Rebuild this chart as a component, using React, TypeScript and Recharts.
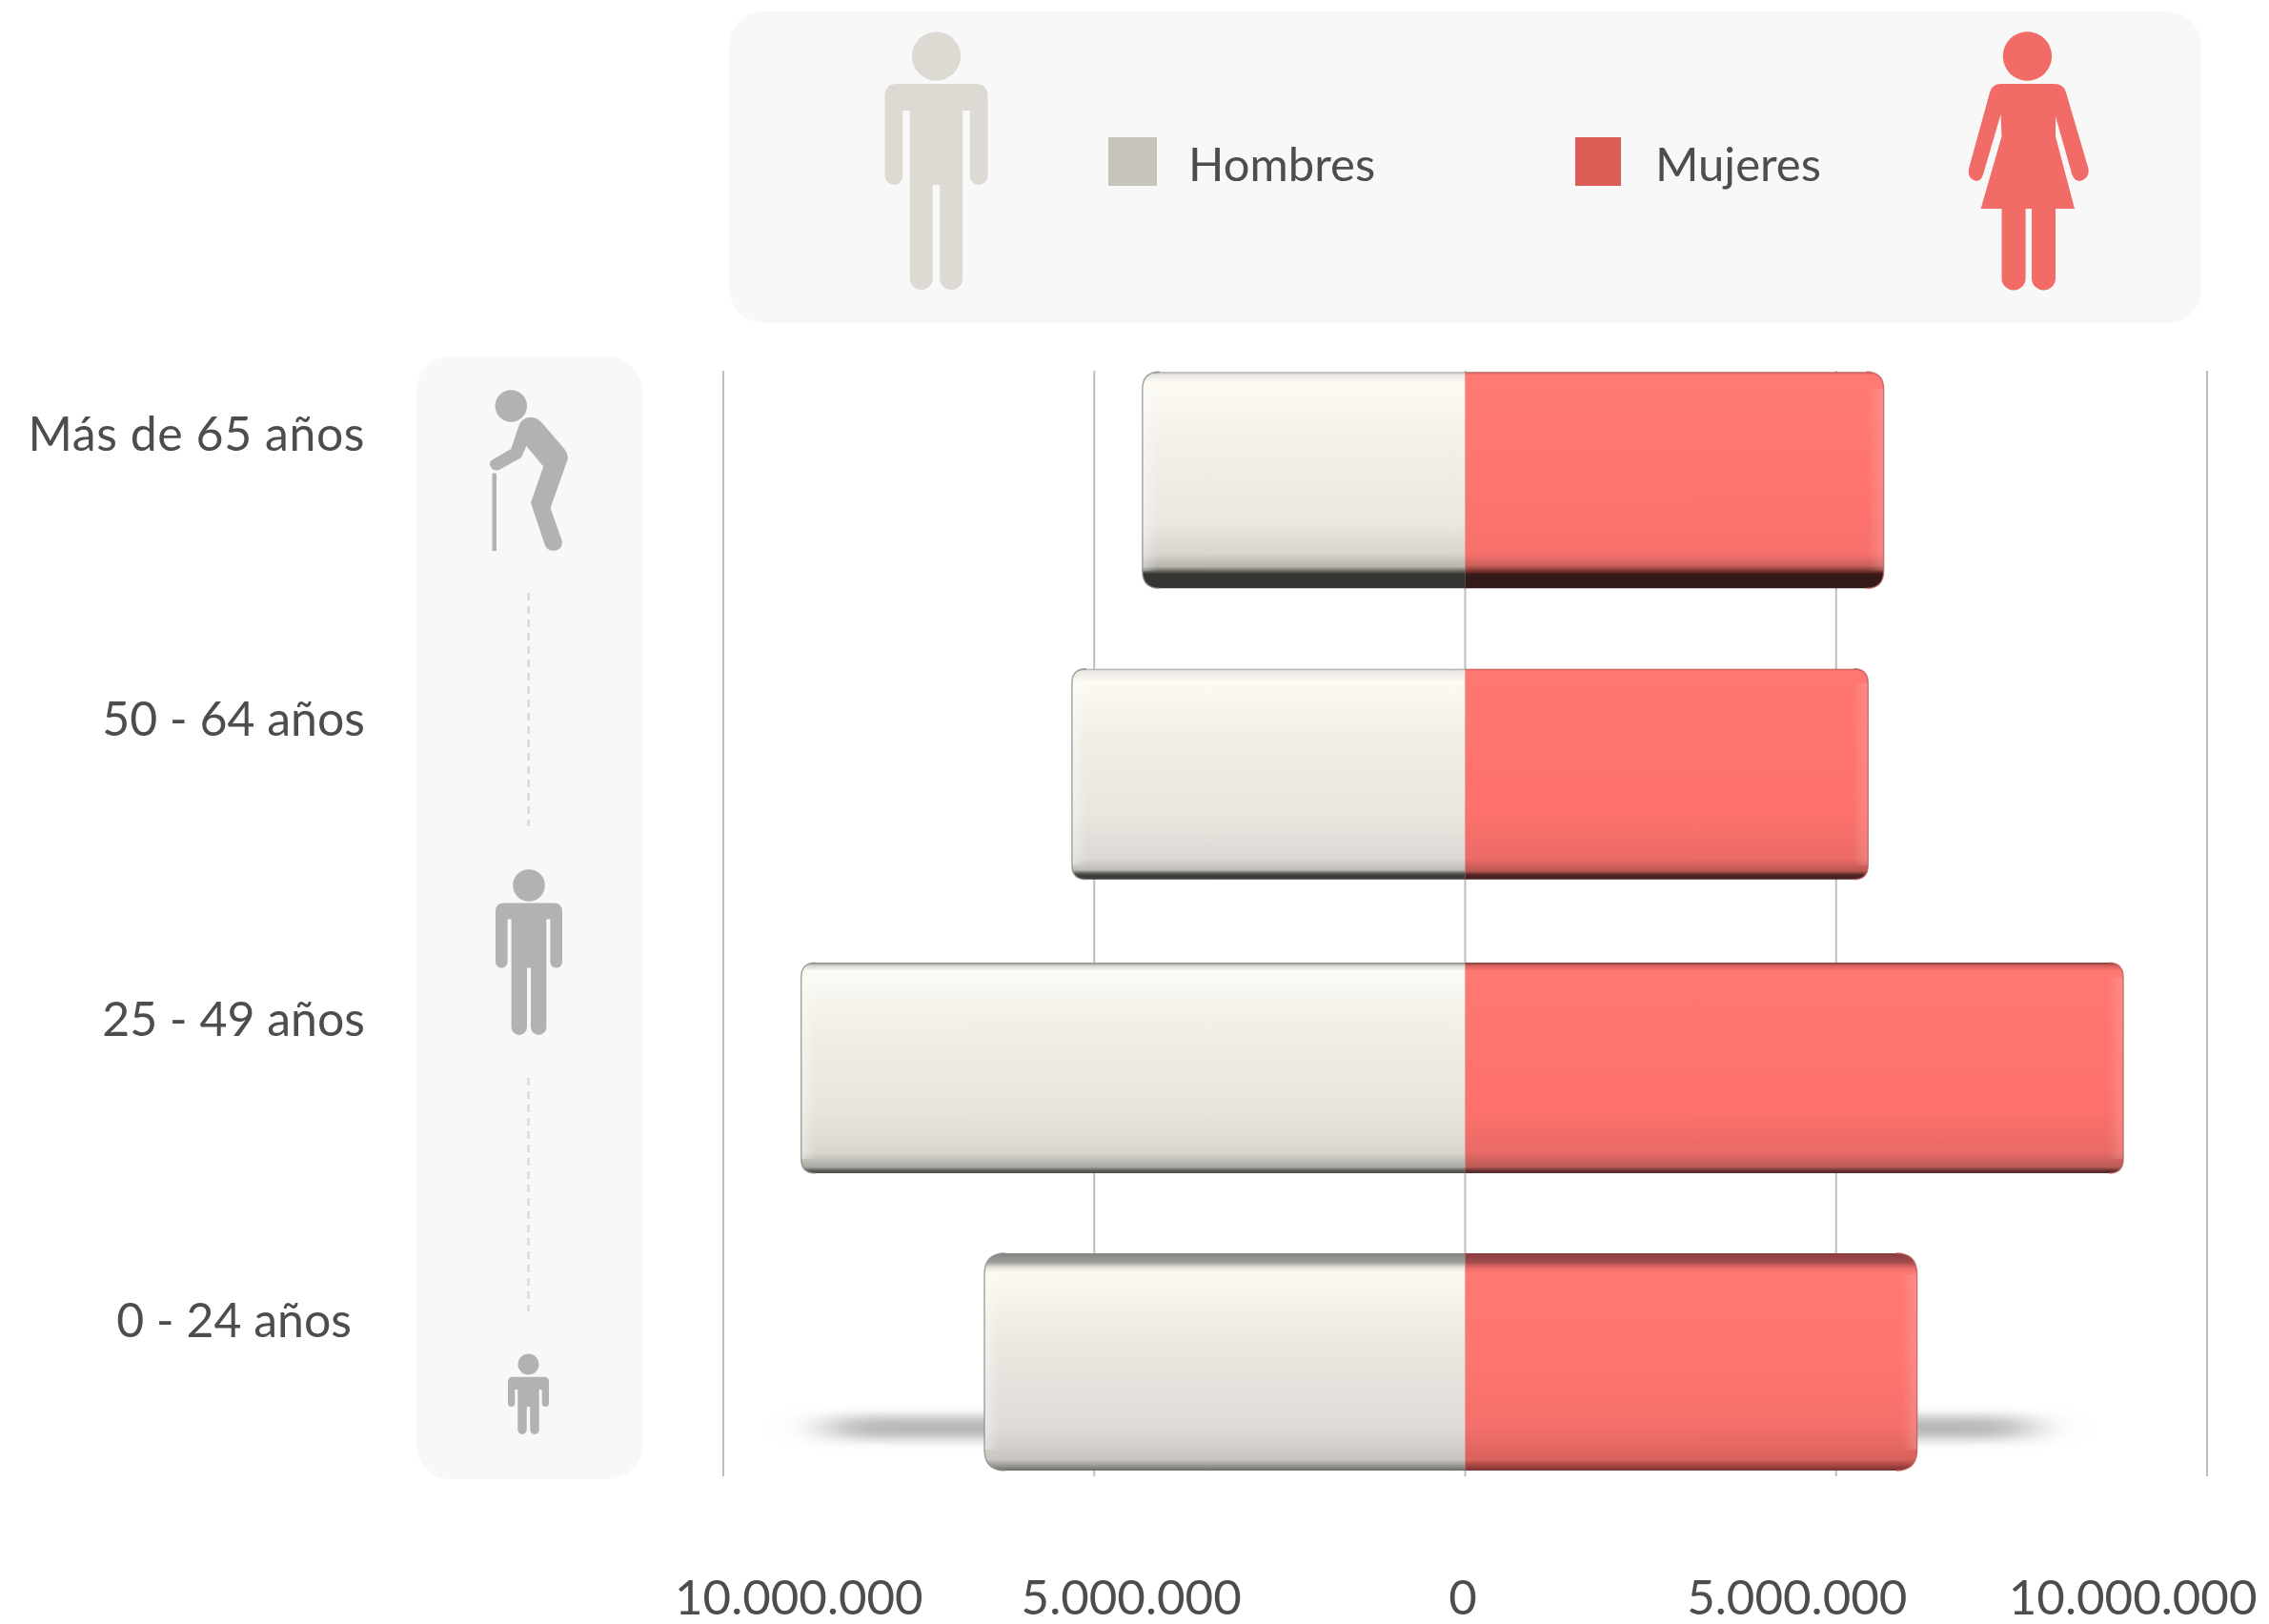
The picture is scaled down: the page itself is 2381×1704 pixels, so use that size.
import { BarChart, Bar, XAxis, YAxis, CartesianGrid, Legend } from 'recharts';

const categories = ['Más de 65 años', '50 - 64 años', '25 - 49 años', '0 - 24 años'];
const hombres = [4350000, 5300000, 8950000, 6480000];
const mujeres = [5640000, 5430000, 8870000, 6090000];
const xTicks = [-10000000, -5000000, 0, 5000000, 10000000];

const chartData = categories.map((name, i) => ({ name, hombres: -hombres[i], mujeres: mujeres[i] }));

const FONT = 'Lato, sans-serif';
const TEXT = '#4d4d4d';
const PANEL = '#f8f8f8';
const ICON = '#b2b2b2';

// labels sit a bit above the centre of their bar in the original
const labelUp = [30.5, 39.5, 33, 26];
const labelLeft = [0, 0, 0, 14];
const labelSpacing = [0.55, 0, 0, 0];
// the axis numbers are drawn closer to the centre than the gridlines
const tickSpread = 0.9;
const tickNudge = [1.5, 0, -2.5, -2, 0];

const legendColors = ['#c8c4bc', '#dc5c56'];
const legendSpots = [{ box: 1163, w: 51, text: 1247 }, { box: 1653, w: 48, text: 1737 }];

type Stop = [number, string];
const rowLook: { grow: number; radius: number; man: Stop[]; woman: Stop[] }[] = [
  {
    grow: 6,
    radius: 18,
    man: [[0, '#a8a6a2'], [0.012, '#e8e6e0'], [0.05, '#fdfbf4'], [0.3, '#f4f1ea'], [0.7, '#ebe8e1'], [0.84, '#d8d5cf'], [0.9, '#b5b3ac'], [0.925, '#55544f'], [0.935, '#343432'], [1, '#343432']],
    woman: [[0, '#b85b58'], [0.012, '#ff7772'], [0.05, '#ff7a74'], [0.5, '#ff7570'], [0.84, '#f8706c'], [0.895, '#c9615c'], [0.925, '#6a2b28'], [0.935, '#341a18'], [1, '#331917']],
  },
  {
    grow: 0,
    radius: 15,
    man: [[0, '#a5a39f'], [0.01, '#e9e7e1'], [0.06, '#fcfaf3'], [0.3, '#f2efe8'], [0.7, '#e9e6e0'], [0.9, '#dcd9d4'], [0.955, '#bebcb6'], [0.97, '#63615e'], [0.98, '#3e3d3b'], [1, '#3e3d3b']],
    woman: [[0, '#c45f5b'], [0.01, '#ff7771'], [0.3, '#ff7570'], [0.7, '#fc716c'], [0.9, '#ec6b67'], [0.96, '#bb5753'], [0.98, '#4e2220'], [1, '#4a1e1c']],
  },
  {
    grow: 0,
    radius: 15,
    man: [[0, '#8b8a87'], [0.015, '#d8d6d0'], [0.04, '#fbfaf4'], [0.3, '#f2efe8'], [0.7, '#e8e5df'], [0.9, '#dad7d1'], [0.97, '#aaa8a2'], [0.99, '#55534f'], [1, '#55534f']],
    woman: [[0, '#7e3e3c'], [0.015, '#d9625f'], [0.04, '#ff7872'], [0.7, '#fd716c'], [0.9, '#e96a66'], [0.97, '#b85a56'], [0.99, '#5c2d2b'], [1, '#53302f']],
  },
  {
    grow: 7,
    radius: 22,
    man: [[0, '#858481'], [0.04, '#9c9b97'], [0.065, '#e4e2dc'], [0.09, '#fbf9f1'], [0.4, '#ece9e3'], [0.8, '#dfdcd7'], [0.95, '#c9c6c1'], [0.985, '#8c8a85'], [1, '#6a6965']],
    woman: [[0, '#8a3c40'], [0.04, '#a04a4c'], [0.065, '#e66a67'], [0.09, '#ff7872'], [0.5, '#ff7570'], [0.8, '#f46f6b'], [0.95, '#d9625c'], [0.985, '#963c3a'], [1, '#7a3533']],
  },
];

function GlossyBar(props: any) {
  const { x, y, width, height, index, side } = props;
  const look = rowLook[index];
  const left = Math.min(x, x + width);
  const right = Math.max(x, x + width);
  const top = y - look.grow / 2;
  const bottom = y + height + look.grow / 2;
  const r = look.radius;
  const id = `bar-${side}-${index}`;
  const stops = side === 'man' ? look.man : look.woman;
  const isMan = side === 'man';

  const outer = isMan
    ? `M${left + r} ${top} Q${left} ${top} ${left} ${top + r} L${left} ${bottom - r} Q${left} ${bottom} ${left + r} ${bottom}`
    : `M${right - r} ${top} Q${right} ${top} ${right} ${top + r} L${right} ${bottom - r} Q${right} ${bottom} ${right - r} ${bottom}`;
  const body = isMan ? `${outer} L${right} ${bottom} L${right} ${top} Z` : `${outer} L${left} ${bottom} L${left} ${top} Z`;

  return (
    <g>
      <defs>
        <linearGradient id={id} x1="0" y1="0" x2="0" y2="1">
          {stops.map(([o, c]) => (
            <stop key={o} offset={o} stopColor={c} />
          ))}
        </linearGradient>
        <linearGradient id={`${id}-rim`} x1={isMan ? 0 : 1} y1="0" x2={isMan ? 1 : 0} y2="0">
          <stop offset={0} stopColor="#ffffff" stopOpacity={isMan ? 0.35 : 0.16} />
          <stop offset={1} stopColor="#ffffff" stopOpacity={0} />
        </linearGradient>
      </defs>
      <path d={body} fill={`url(#${id})`} />
      <rect
        x={isMan ? left : right - 16}
        y={top + r}
        width={16}
        height={bottom - top - 2 * r}
        fill={`url(#${id}-rim)`}
      />
      <path d={outer} fill="none" stroke={isMan ? '#8a8985' : '#b85a57'} strokeWidth={1.4} strokeOpacity={0.8} />
    </g>
  );
}

function CategoryTick(props: any) {
  const { y, index, payload } = props;
  return (
    <text
      x={383 - labelLeft[index]}
      y={y - labelUp[index]}
      textAnchor="end"
      fontFamily={FONT}
      fontSize={50}
      letterSpacing={labelSpacing[index]}
      fill={TEXT}
    >
      {payload.value}
    </text>
  );
}

function ValueTick(props: any) {
  const { x, index, payload } = props;
  const text = Math.abs(payload.value).toString().replace(/\B(?=(\d{3})+$)/g, '.');
  return (
    <text
      x={1537.5 + (x - 1537.5) * tickSpread + tickNudge[index]}
      y={1694}
      textAnchor="middle"
      fontFamily={FONT}
      fontSize={51}
      fill={TEXT}
    >
      {text}
    </text>
  );
}

function LegendMarks(props: any) {
  const items = props.payload || [];
  return (
    <svg width={2381} height={340} style={{ display: 'block', overflow: 'visible' }}>
      {items.map((item: any, i: number) => (
        <g key={item.value}>
          <rect x={legendSpots[i].box} y={144} width={legendSpots[i].w} height={51} fill={legendColors[i]} />
          <text x={legendSpots[i].text} y={190} fontFamily={FONT} fontSize={49} fill={TEXT}>
            {item.value}
          </text>
        </g>
      ))}
    </svg>
  );
}

function personPath(p: any) {
  const { cx, bodyTop, slitTop, armBottom, legBottom, halfW, torso, slit, gap, r } = p;
  const armR = (halfW - torso - slit) / 2;
  const legR = (torso - gap / 2) / 2;
  return [
    `M${cx - halfW + r} ${bodyTop} L${cx + halfW - r} ${bodyTop} Q${cx + halfW} ${bodyTop} ${cx + halfW} ${bodyTop + r}`,
    `L${cx + halfW} ${armBottom - armR} A${armR} ${armR} 0 0 1 ${cx + torso + slit} ${armBottom - armR}`,
    `L${cx + torso + slit} ${slitTop} L${cx + torso} ${slitTop}`,
    `L${cx + torso} ${legBottom - legR} A${legR} ${legR} 0 0 1 ${cx + gap / 2} ${legBottom - legR}`,
    `L${cx + gap / 2} ${armBottom} L${cx - gap / 2} ${armBottom}`,
    `L${cx - gap / 2} ${legBottom - legR} A${legR} ${legR} 0 0 1 ${cx - torso} ${legBottom - legR}`,
    `L${cx - torso} ${slitTop} L${cx - torso - slit} ${slitTop}`,
    `L${cx - torso - slit} ${armBottom - armR} A${armR} ${armR} 0 0 1 ${cx - halfW} ${armBottom - armR}`,
    `L${cx - halfW} ${bodyTop + r} Q${cx - halfW} ${bodyTop} ${cx - halfW + r} ${bodyTop} Z`,
  ].join(' ');
}

function Person(p: any) {
  return (
    <g fill={p.fill}>
      <circle cx={p.cx} cy={p.headY} r={p.headR} />
      <path d={personPath(p)} />
    </g>
  );
}

// panels and pictograms, they sit behind the chart
function Backdrop() {
  return (
    <svg width={2381} height={1704} style={{ position: 'absolute', left: 0, top: 0 }}>
      <defs>
        <filter id="floor" x="-10%" y="-200%" width="120%" height="500%">
          <feGaussianBlur stdDeviation="28 6" />
        </filter>
      </defs>
      <rect x={765} y={12} width={1545} height={327} rx={36} fill={PANEL} />
      <rect x={437} y={374} width={237} height={1178} rx={36} fill={PANEL} />

      <Person cx={982.5} headY={59} headR={25.6} bodyTop={88} slitTop={116} armBottom={194} legBottom={304} halfW={54} torso={27.7} slit={7.5} gap={7.5} r={13} fill="#dcdad3" />

      <g fill="#f26c67">
        <circle cx={2127.4} cy={59} r={25.7} />
        <path d="M2100 88 L2155 88 Q2166 88 2168 97 L2191.5 177 Q2193 188 2182 190 Q2175 190 2172.7 177.5 L2157 122 L2157 143 L2177 219 L2157 219 L2157 292 A12.5 12.5 0 0 1 2132 292 L2132 219 L2125.6 219 L2125.6 292 A12.5 12.5 0 0 1 2100.5 292 L2100.5 219 L2078.6 219 L2100.5 143 L2099.5 120 L2082.7 177.5 Q2080 190 2074.4 190 Q2064 188 2066 177 L2088 97 Q2090 88 2100 88 Z" />
      </g>

      <g fill={ICON}>
        <circle cx={536.3} cy={426} r={16.7} />
        <path d="M556.5 437.7 Q564 438 569.3 444.2 L592.3 471 Q597 477 595.5 482.5 L577.6 533 L589.5 566.7 Q591 574 585 577 Q576 580 572 572.4 L557 527.6 L570.2 489.4 L552.3 467.9 L548 478 Q547 480 546.4 480.6 L523.4 493.2 Q517 495 514.2 488.2 Q513 484 517.9 481.7 L536.3 471 L544 448 Q547 438 556.5 437.7 Z" />
        <rect x={516.5} y={496.6} width={4.5} height={81.4} />
      </g>
      <Person cx={555} headY={929} headR={16.8} bodyTop={947.4} slitTop={964.6} armBottom={1015.5} legBottom={1086} halfW={35} torso={18.4} slit={4} gap={4} r={9} fill={ICON} />
      <Person cx={554.5} headY={1431.5} headR={11} bodyTop={1444.7} slitTop={1458} armBottom={1476} legBottom={1505} halfW={21.5} torso={11.2} slit={3} gap={3.5} r={5} fill={ICON} />

      <line x1={554.6} x2={554.6} y1={622} y2={867} stroke="#d8d8d8" strokeWidth={2.4} strokeDasharray="8 6" />
      <line x1={554.6} x2={554.6} y1={1131} y2={1376} stroke="#d8d8d8" strokeWidth={2.4} strokeDasharray="8 6" />

      <rect x={870} y={1486} width={1260} height={24} rx={12} fill="#b8b8b8" filter="url(#floor)" />
    </svg>
  );
}

export default function App() {
  return (
    <div style={{ position: 'absolute', left: 0, top: 0, width: 2381, height: 1704, background: '#fff', overflow: 'hidden' }}>
      <Backdrop />
      <div style={{ position: 'absolute', left: 0, top: 0 }}>
        <BarChart
          width={2381}
          height={1704}
          data={chartData}
          layout="vertical"
          stackOffset="sign"
          barSize={221}
          margin={{ top: 389, right: 65, bottom: 0, left: 0 }}
        >
          <CartesianGrid horizontal={false} stroke="#bdbdbd" strokeWidth={2} />
          <XAxis type="number" domain={[-10000000, 10000000]} ticks={xTicks} height={155} axisLine={false} tickLine={false} tick={<ValueTick />} />
          <YAxis type="category" dataKey="name" width={759} padding={{ top: -39.7, bottom: -33.9 }} axisLine={false} tickLine={false} interval={0} tick={<CategoryTick />} />
          <Legend
            layout="horizontal"
            verticalAlign="middle"
            content={<LegendMarks />}
            wrapperStyle={{ position: 'absolute', left: 0, top: 0, width: 2381, height: 340 }}
          />
          <Bar dataKey="hombres" name="Hombres" stackId="a" fill="#f0ede6" isAnimationActive={false} shape={(p: any) => <GlossyBar {...p} side="man" />} />
          <Bar dataKey="mujeres" name="Mujeres" stackId="a" fill="#ff7570" isAnimationActive={false} shape={(p: any) => <GlossyBar {...p} side="woman" />} />
        </BarChart>
      </div>
    </div>
  );
}
